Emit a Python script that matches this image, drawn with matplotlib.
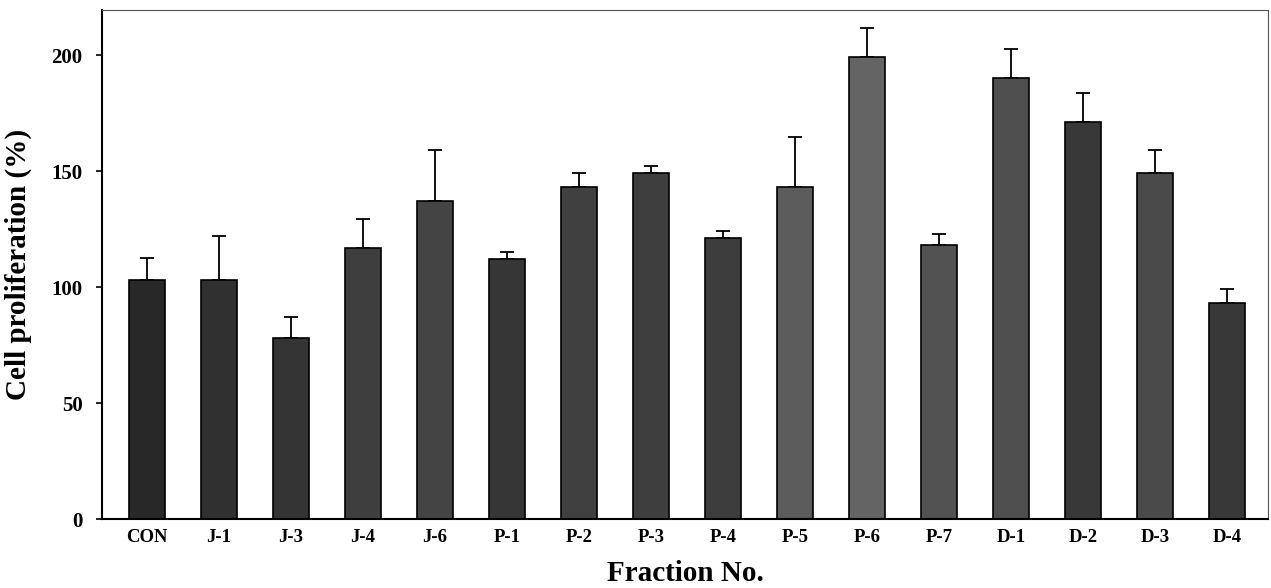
import matplotlib
matplotlib.use("Agg")
from matplotlib import pyplot as plt

fractions = ['CON', 'J-1', 'J-3', 'J-4', 'J-6', 'P-1', 'P-2', 'P-3',
             'P-4', 'P-5', 'P-6', 'P-7', 'D-1', 'D-2', 'D-3', 'D-4']
proliferation = [103, 103, 78, 117, 137, 112, 143, 149,
                 121, 143, 199, 118, 190, 171, 149, 93]
sd = [9.5, 19, 9, 12.5, 22, 3, 6, 3, 3, 21.5, 12.5, 5, 12.5, 12.5, 10, 6]
shades = ['#282828', '#303030', '#343434', '#3e3e3e', '#444444', '#363636',
          '#404040', '#3e3e3e', '#3c3c3c', '#5c5c5c', '#646464', '#525252',
          '#4e4e4e', '#383838', '#4a4a4a', '#383838']

plt.rcParams['font.family'] = ['Liberation Serif', 'DejaVu Serif']
plt.rcParams['font.weight'] = 'bold'

fig = plt.figure(figsize=(12.71, 5.88), dpi=100)
ax = fig.add_axes([0.0803, 0.1173, 0.9173, 0.8657])

x = range(len(fractions))
ax.bar(x, proliferation, width=0.5, color=shades, edgecolor='black',
       linewidth=1.2, zorder=2)
ax.errorbar(x, proliferation, yerr=[[0] * len(sd), sd], fmt='none',
            ecolor='black', elinewidth=1.3, capsize=5, capthick=1.3, zorder=1)

ax.set_xlim(-0.625, 15.57)
ax.set_ylim(0, 219.4)
ax.set_yticks([0, 50, 100, 150, 200])
ax.set_xticks(list(x))
ax.set_xticklabels(fractions)
ax.tick_params(axis='y', direction='out', length=4, width=1.2, pad=10,
               labelsize=15)
ax.tick_params(axis='x', length=0, pad=7, labelsize=13.5)
for label in ax.get_xticklabels() + ax.get_yticklabels():
    label.set_fontweight('bold')

for side in ['left', 'bottom']:
    ax.spines[side].set_linewidth(1.5)
for side in ['top', 'right']:
    ax.spines[side].set_linewidth(0.8)
    ax.spines[side].set_color('#555555')

ax.set_ylabel('Cell proliferation (%)', fontsize=21, fontweight='bold',
              labelpad=14)
ax.set_xlabel('Fraction No.', fontsize=21, fontweight='bold', labelpad=10)

plt.savefig('out.png', dpi=100)
